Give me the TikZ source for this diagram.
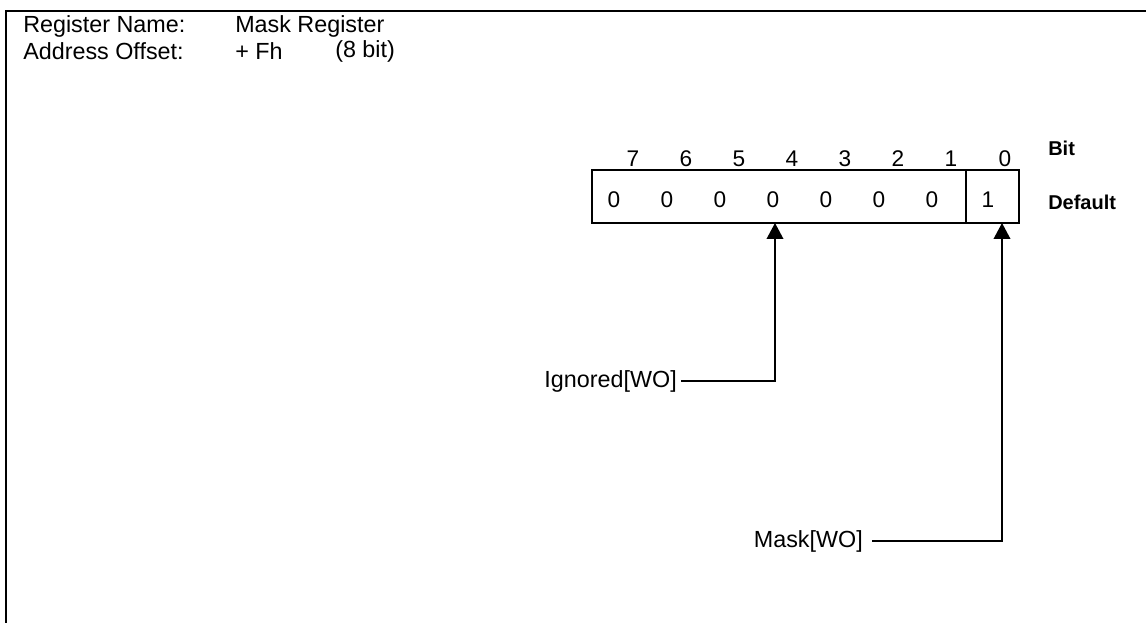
\documentclass[tikz,border=0pt]{standalone}
\usepackage{fontspec}
\setmainfont{Liberation Sans}
\usetikzlibrary{arrows.meta}
\begin{document}
\begin{tikzpicture}[x=0.75pt,y=-0.75pt,
  frameline/.style={line width=1.6pt,black},
  boxline/.style={line width=1.2pt,black},
  conn/.style={line width=1.2pt,black},
  arr/.style={conn,-{Triangle[length=12pt,width=12.5pt]}},
  txt/.style={inner sep=0pt,font=\fontsize{17.5}{20}\selectfont},
  dig/.style={inner sep=0pt,font=\fontsize{17}{19}\selectfont},
  hdr/.style={inner sep=0pt,font=\fontsize{15}{18}\selectfont\bfseries,anchor=west}]
\useasboundingbox (0,0) rectangle (1146,623);
% frame
\draw[frameline] (6,623) -- (6,11) -- (1146,11);
% header texts
\node[txt,anchor=west] (rn) at (23,26) {Register Name:};
\node[txt,anchor=west] (rv) at (235,26) {Mask Register};
\node[txt,anchor=west] (ao) at (23,51) {Address Offset:};
\node[txt,anchor=west] (av) at (235,51) {+ Fh};
\node[txt,anchor=west] (aw) at (335,51) {(8 bit)};
% register box
\coordinate (bNW) at (592,170);
\coordinate (bSE) at (1019,223);
\coordinate (dTop) at (966,170);
\coordinate (dBot) at (966,223);
\draw[boxline] (bNW) rectangle (bSE);
\draw[boxline] (dTop) -- (dBot);
% bit numbers
\foreach \b/\x in {7/633,6/686,5/739,4/792,3/845,2/898,1/951,0/1005}
  \node[dig] (n\b) at (\x,159) {\b};
% default values
\foreach \b/\x in {7/614,6/667,5/720,4/773,3/826,2/879,1/932}
  \node[dig] (v\b) at (\x,200) {0};
\node[dig] (v0) at (988,200) {1};
\node[hdr] (bit) at (1048,148) {Bit};
\node[hdr] (def) at (1048,202) {Default};
% field labels
\node[txt,anchor=east] (ign) at (677,381) {Ignored[WO]};
\node[txt,anchor=east] (msk) at (863,541) {Mask[WO]};
\coordinate (aI) at (775,223);
\coordinate (aM) at (1002,223);
\draw[arr] ([xshift=3pt]ign.east) -| (aI);
\draw[arr] ([xshift=7pt]msk.east) -| (aM);
\end{tikzpicture}
\end{document}
